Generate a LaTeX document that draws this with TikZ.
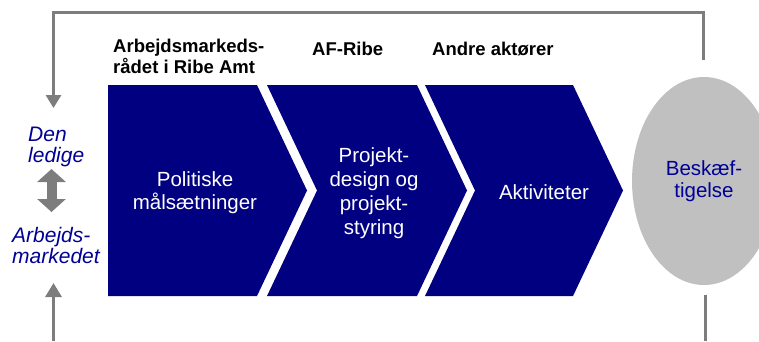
\documentclass[tikz,border=0pt]{standalone}
\usepackage{fontspec}
\setmainfont{Liberation Sans}
\usetikzlibrary{arrows.meta,shapes.geometric}
\definecolor{navyfill}{RGB}{0,0,128}
\definecolor{lblue}{RGB}{0,0,150}
\definecolor{linegray}{RGB}{125,125,125}
\definecolor{ellgray}{RGB}{192,192,192}
\begin{document}
\begin{tikzpicture}[x=1pt,y=-1pt,
  chev/.style={fill=navyfill},
  chevtext/.style={text=white,align=center,inner sep=0pt,font=\fontsize{20.5}{23}\selectfont},
  headtext/.style={text=black,align=left,inner sep=0pt,anchor=base west,font=\fontsize{18.5}{18}\selectfont\bfseries},
  sidetext/.style={text=lblue,align=left,inner sep=0pt,anchor=base west,font=\fontsize{21}{21}\selectfont\itshape},
  gline/.style={draw=linegray,line width=3pt},
  gtip/.style={-{Triangle[width=15pt,length=13pt]}}
]
\useasboundingbox (0,0) rectangle (759,341);
\clip (0,0) rectangle (759,341);

% chevrons
\fill[chev] (108,85) -- (257,85) -- (307,190.5) -- (257,296) -- (108,296) -- cycle;
\fill[chev] (267,85) -- (417,85) -- (467,190.5) -- (417,296) -- (267,296) -- (317,190.5) -- cycle;
\fill[chev] (425,85) -- (573,85) -- (623,190.5) -- (573,296) -- (425,296) -- (475,190.5) -- cycle;

\node[chevtext] (pol) at (195,193) {Politiske\\målsætninger};
\node[chevtext,font=\fontsize{20.5}{24}\selectfont] (proj) at (374,193) {Projekt-\\design og\\projekt-\\styring};
\node[chevtext] (akt) at (544,192) {Aktiviteter};

% headers (base anchor = baseline of last line)
\node[headtext] (h1) at (113,73) {Arbejdsmarkeds-\\rådet i Ribe Amt};
\node[headtext] (h2) at (312,55) {AF-Ribe};
\node[headtext] (h3) at (432,55) {Andre aktører};

% ellipse
\node[ellipse,fill=ellgray,minimum width=144pt,minimum height=208pt,inner sep=0pt,
      text=lblue,align=center,font=\fontsize{20.5}{22}\selectfont] (besk) at (704,181) {Beskæf-\\tigelse};

% side labels
\node[sidetext] (den) at (28,162) {Den\\ledige};
\node[sidetext] (arb) at (12,263) {Arbejds-\\markedet};

% connectors
\coordinate (rtop) at (703,60);
\coordinate (rc) at (703,12.5);
\coordinate (lc) at (53.5,12.5);
\coordinate (ltip) at (53.5,108);
\draw[gline,gtip] (rtop) -- (rc) -- (lc) -- (ltip);

\coordinate (lbot) at (53.5,341);
\coordinate (lbtip) at (53.5,283);
\draw[gline,-{Triangle[width=16pt,length=14pt]}] (lbot) -- (lbtip);

\coordinate (rbtop) at (705,295);
\coordinate (rbbot) at (705,341);
\draw[gline] (rbtop) -- (rbbot);

\coordinate (dtop) at (51.5,169);
\coordinate (dbot) at (51.5,212);
\draw[draw=linegray,line width=10pt,{Triangle[width=28pt,length=13pt]}-{Triangle[width=28pt,length=13pt]}] (dtop) -- (dbot);
\end{tikzpicture}
\end{document}
